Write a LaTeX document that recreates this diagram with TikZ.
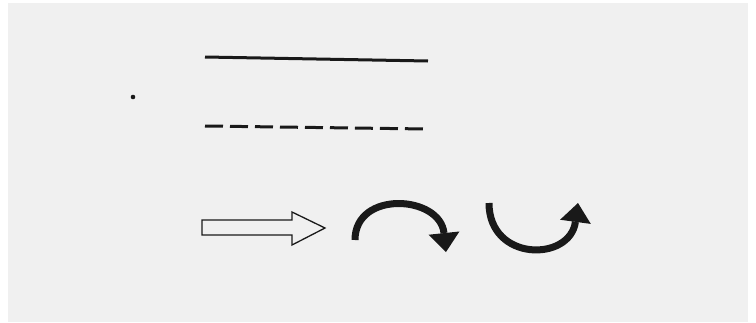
\documentclass[tikz,border=0pt]{standalone}
\usetikzlibrary{arrows.meta}
\definecolor{paper}{RGB}{240,240,240}
\definecolor{ink}{RGB}{25,25,25}
\begin{document}
\begin{tikzpicture}[x=1pt,y=-1pt,
	legendline/.style={ink, line width=3pt},
	bentarrow/.style={ink, line width=7pt, -{Triangle[width=31pt,length=19pt,line width=0pt]}}]
	\coordinate (P0) at (0, 0);
	\coordinate (P1) at (756, 322);
	% solid and dashed lines
	\coordinate (L0) at (205, 57);
	\coordinate (L1) at (428, 61);
	\coordinate (K0) at (205, 126);
	\coordinate (K1) at (427, 129);
	% hollow arrow
	\coordinate (A0) at (202, 220);
	\coordinate (A1) at (292, 220);
	\coordinate (A2) at (292, 212);
	\coordinate (A3) at (325, 228);
	\coordinate (A4) at (292, 245);
	\coordinate (A5) at (292, 235);
	\coordinate (A6) at (202, 235);
	% bent arrows
	\coordinate (B0) at (355, 240);
	\coordinate (B1) at (446, 252);
	\coordinate (C0) at (489, 203);
	\coordinate (C1) at (578, 203);
\useasboundingbox (P0) rectangle (P1);
% paper
\fill [white] (P0) rectangle (P1);
\fill [paper] (8, 3) rectangle (748, 322);
	% stray dot
	\fill [ink] (133, 97) circle (2.3);
	% lines
	\draw [legendline] (L0) -- (L1);
	\draw [legendline, dash pattern=on 18pt off 7pt] (K0) -- (K1);
	% arrows
	\draw [ink, line width=1.3pt, line join=miter] (A0) -- (A1) -- (A2) -- (A3) -- (A4) -- (A5) -- (A6) -- cycle;
	\draw [bentarrow] (B0) .. controls (355, 190) and (440, 195) .. (B1);
	\draw [bentarrow] (C0) .. controls (489, 262) and (570, 262) .. (C1);
\end{tikzpicture}
\end{document}
